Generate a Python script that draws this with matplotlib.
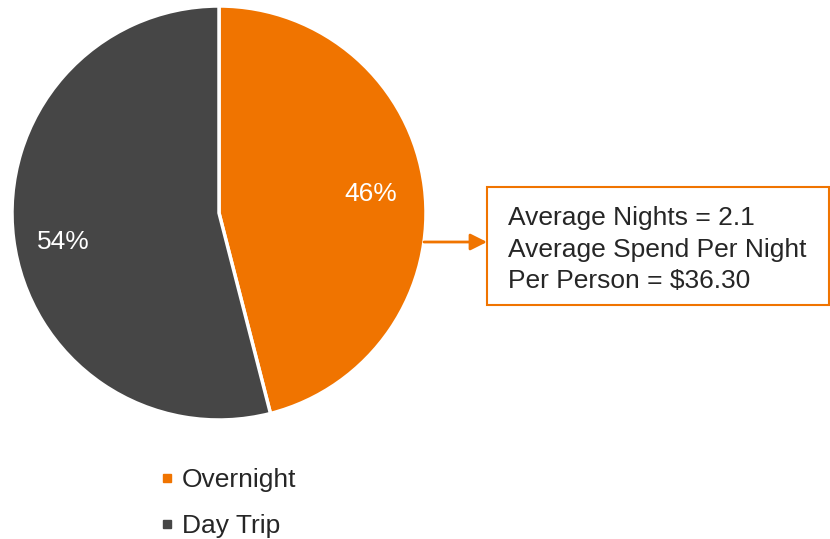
import matplotlib.pyplot as plt
from matplotlib.patches import Rectangle
from matplotlib.lines import Line2D

plt.rcParams['font.family'] = ['Liberation Sans', 'DejaVu Sans']

labels = ['Overnight', 'Day Trip']
shares = [46, 54]
colors = ['#F07400', '#464646']
note_lines = ['Average Nights = 2.1',
              'Average Spend Per Night',
              'Per Person = $36.30']

W, H = 830, 539
fig = plt.figure(figsize=(W / 100, H / 100), dpi=100)
ax = fig.add_axes([0, 0, 1, 1])
ax.set_xlim(0, W)
ax.set_ylim(0, H)
ax.set_aspect('equal')
ax.axis('off')

cx, cy, r = 219, H - 213, 207
wedges, _, pcts = ax.pie(shares, colors=colors, startangle=90, counterclock=False,
                         center=(cx, cy), radius=r, autopct='%d%%', pctdistance=0.74,
                         wedgeprops=dict(edgecolor='white', linewidth=2.5),
                         textprops=dict(color='white', fontsize=19))
# day trip label sits a bit further out and lower
x, y = pcts[1].get_position()
pcts[1].set_position((x - 4, y - 10))
ax.set_xlim(0, W)
ax.set_ylim(0, H)

# callout box with arrow from the overnight slice
box_l, box_r, box_t, box_b = 487, 829, 187, 305
ax.add_patch(Rectangle((box_l, H - box_b), box_r - box_l, box_b - box_t,
                       fill=False, edgecolor='#F07400', linewidth=1.5))
ax.annotate('', xy=(box_l, H - 242), xytext=(424, H - 242),
            arrowprops=dict(arrowstyle='-|>,head_length=1.0,head_width=0.5',
                            color='#F07400', lw=2, shrinkA=0, shrinkB=0))
ax.text(508, H - 206, '\n'.join(note_lines), ha='left', va='top',
        fontsize=19, color='#262626', linespacing=1.4)

handles = [Line2D([], [], marker='s', linestyle='', markersize=5.5,
                  markerfacecolor=c, markeredgecolor=c) for c in colors]
fig.legend(handles, labels, loc='upper left', bbox_to_anchor=(146 / W, 1 - 455 / H),
           frameon=False, fontsize=19, handlelength=0.6, handletextpad=0.25,
           labelspacing=0.82, borderpad=0, labelcolor='#262626')

fig.savefig('out.png', dpi=100)
